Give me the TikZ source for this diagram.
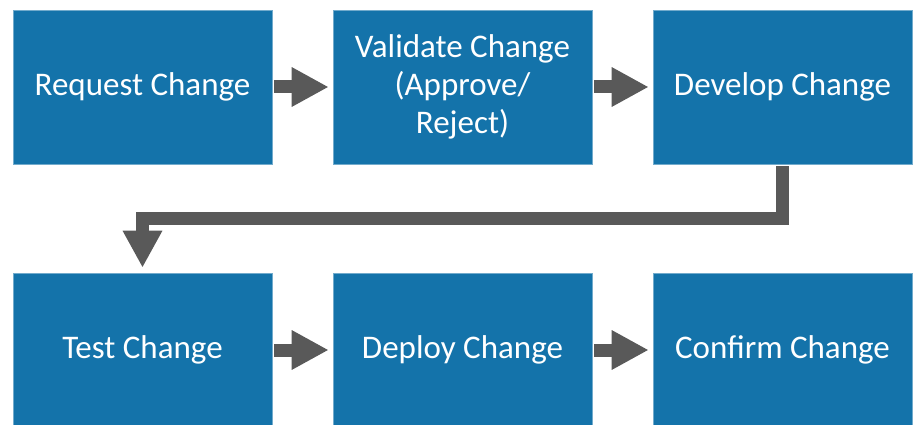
\documentclass[tikz,border=0pt]{standalone}
\usepackage{fontspec}
\setmainfont{Carlito}
\usetikzlibrary{arrows.meta,positioning}
\usepackage{xcolor}
\definecolor{stepblue}{RGB}{20,115,170}
\definecolor{arrowgray}{RGB}{89,89,89}

\begin{document}
\begin{tikzpicture}[node distance=320pt,
    block/.style={rectangle, fill=stepblue, draw=stepblue!60!white, line width=0.6pt, text=white, align=center, minimum width=259pt, minimum height=154pt, font=\fontsize{33}{38}\selectfont},
    flow/.style={draw=arrowgray, line width=13pt, -{Triangle[width=37pt,length=37pt]}, shorten <=2pt, shorten >=4pt}]
    \useasboundingbox (-142.5pt,87pt) rectangle (776.5pt,-338pt);
    \node [block] (request) {Request Change};
    \node [block, right of=request] (validate) {Validate Change\\(Approve/\\Reject)};
    \node [block, right of=validate] (develop) {Develop Change};
    \node [block, below of=request, node distance=263pt] (test) {Test Change};
    \node [block, right of=test] (deploy) {Deploy Change};
    \node [block, right of=deploy] (confirm) {Confirm Change};
    \draw[flow] (request) -- (validate);
    \draw[flow] (validate) -- (develop);
    \draw[flow, shorten >=5pt] (develop.south) -- ++(0,-54pt) -| (test.north);
    \draw[flow] (test) -- (deploy);
    \draw[flow] (deploy) -- (confirm);
\end{tikzpicture}
\end{document}
